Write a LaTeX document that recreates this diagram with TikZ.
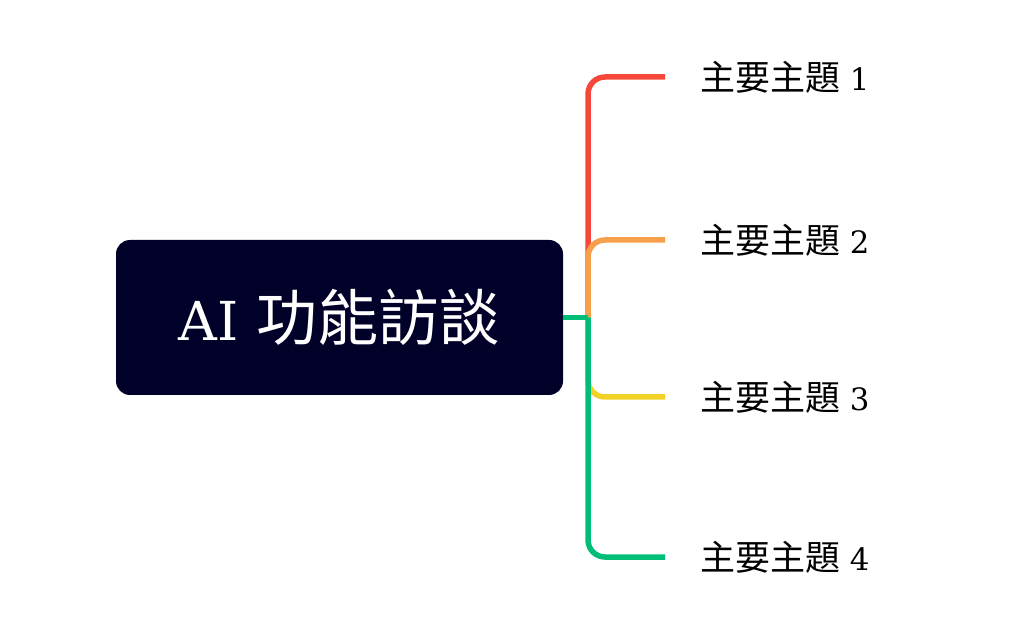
\documentclass[tikz,border=0pt]{standalone}
\usepackage{fontspec}
\setmainfont{DejaVu Serif}[Scale=0.88]
\newfontfamily\cjk{Noto Sans CJK TC}
\usetikzlibrary{positioning}
\definecolor{rootfill}{RGB}{0,0,40}
\definecolor{brred}{RGB}{246,72,58}
\definecolor{brorange}{RGB}{247,160,76}
\definecolor{bryellow}{RGB}{243,210,40}
\definecolor{brgreen}{RGB}{0,190,120}
\tikzset{
  root/.style={fill=rootfill, text=white, rounded corners=14pt, minimum width=447pt,
    minimum height=155pt, inner sep=0pt, font=\fontsize{61}{63}\selectfont},
  topic/.style={inner sep=0pt, anchor=west, font=\fontsize{35}{37}\selectfont},
  branch/.style={line width=5.5pt, rounded corners=17pt}
}
\begin{document}
\begin{tikzpicture}[x=1pt, y=-1pt]
\useasboundingbox (0,0) rectangle (1026,636);
\node[root] (core) at (339.5,317.5) {AI {\cjk 功能訪談}};
\coordinate (hub) at (588,317.5);
\coordinate (e1) at (665,77);
\coordinate (e2) at (665,240);
\coordinate (e3) at (665,397);
\coordinate (e4) at (665,557);
\foreach \i in {1,...,4}
  \node[topic, right=35pt of e\i] (t\i) {{\cjk 主要主題} \i};
\draw[branch, brred] (hub) |- (e1);
\draw[branch, brorange] (hub) |- (e2);
\draw[branch, bryellow] (hub) |- (e3);
\draw[branch, brgreen] (hub) |- (e4);
\draw[branch, brgreen] (core.east) -- (hub);
\end{tikzpicture}
\end{document}
